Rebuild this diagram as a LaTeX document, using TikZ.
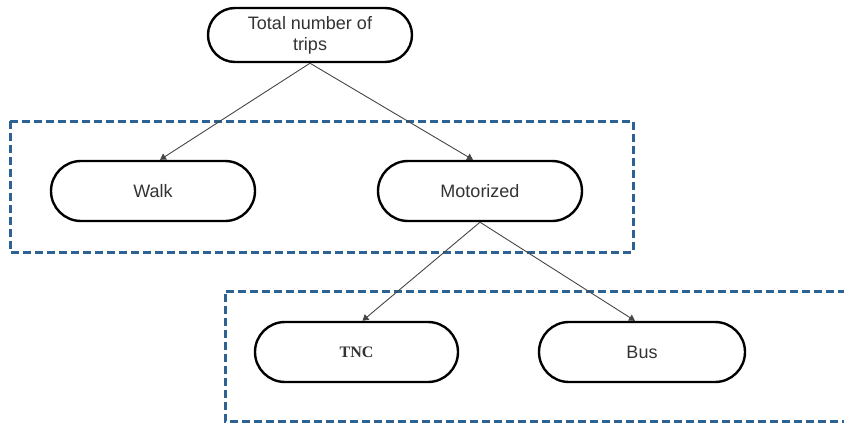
\documentclass[tikz,border=0pt]{standalone}
\usepackage{fontspec}
\setmainfont{Liberation Sans}
\newfontfamily\serifbold{Liberation Serif}
\usetikzlibrary{arrows.meta,shapes.misc}
\definecolor{boxblue}{RGB}{44,98,148}
\definecolor{linkgray}{RGB}{70,70,70}
\begin{document}
\begin{tikzpicture}[x=1pt,y=-1pt,
  pill/.style={draw=black,line width=2.4pt,fill=white,rounded rectangle,
    minimum width=204pt,minimum height=60pt,inner sep=0pt,align=center,
    font=\fontsize{18}{21}\selectfont,text=black!80},
  topnode/.style={pill,minimum height=54pt},
  groupbox/.style={draw=boxblue,line width=3pt,dash pattern=on 8pt off 4pt},
  link/.style={draw=linkgray,line width=0.9pt,-{Triangle[width=7pt,length=6pt]}}]
\useasboundingbox (0,0) rectangle (844,423);
\draw[groupbox] (10,121) rectangle (633,252);
\draw[groupbox] (870,291) -- (225,291) -- (225,421) -- (870,421);
\node[topnode] (total) at (310,35) {Total number of\\trips};
\node[pill] (walk) at (153,191) {Walk};
\node[pill] (motor) at (480,191) {Motorized};
\node[pill,minimum width=203pt] (tnc) at (356.5,352) {\serifbold\bfseries\fontsize{16}{18}\selectfont TNC};
\node[pill,minimum width=206pt] (bus) at (642,352) {Bus};
\draw[link] (total.south) -- ([xshift=7pt]walk.north);
\draw[link] (total.south) -- ([xshift=-7pt]motor.north);
\draw[link] (motor.south) -- ([xshift=6pt]tnc.north);
\draw[link] (motor.south) -- ([xshift=-7pt]bus.north);
\end{tikzpicture}
\end{document}
